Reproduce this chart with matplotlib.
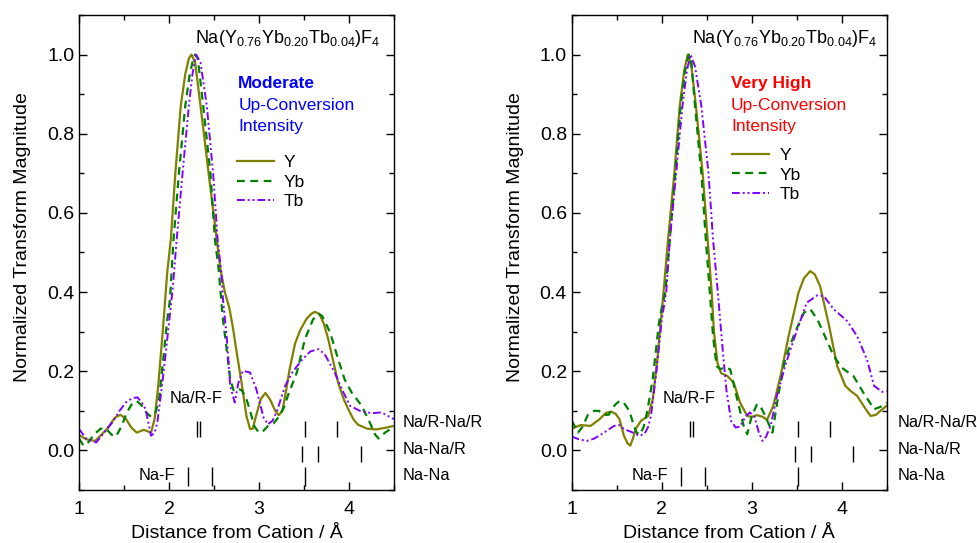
import numpy as np
import matplotlib
matplotlib.use('Agg')
import matplotlib.pyplot as plt
from matplotlib.ticker import MultipleLocator

plt.rcParams['font.family'] = ['Liberation Sans', 'DejaVu Sans']
plt.rcParams['mathtext.fontset'] = 'custom'
plt.rcParams['mathtext.rm'] = 'Liberation Sans'

# ---- data (r in Angstrom, normalized |FT|) ----
# left panel: moderate up-conversion
r_y_mod = [1.00, 1.08, 1.18, 1.31, 1.40, 1.46, 1.52, 1.58, 1.64, 1.72, 1.80, 1.84, 1.88, 1.93,
           1.98, 2.02, 2.07, 2.13, 2.18, 2.22, 2.25, 2.29, 2.35, 2.44, 2.53, 2.57, 2.62, 2.67,
           2.71, 2.75, 2.80, 2.86, 2.90, 2.93, 2.97, 3.02, 3.07, 3.12, 3.18, 3.22, 3.26, 3.30,
           3.34, 3.40, 3.46, 3.53, 3.58, 3.62, 3.67, 3.72, 3.77, 3.83, 3.88, 3.94, 3.99, 4.05,
           4.10, 4.20, 4.30, 4.40, 4.50]
y_mod = [0.039, 0.028, 0.024, 0.054, 0.083, 0.090, 0.080, 0.058, 0.045, 0.052, 0.045, 0.080,
         0.163, 0.300, 0.450, 0.533, 0.700, 0.870, 0.950, 0.990, 1.000, 0.980, 0.870, 0.700,
         0.533, 0.460, 0.400, 0.360, 0.310, 0.250, 0.180, 0.087, 0.054, 0.055, 0.090, 0.130,
         0.145, 0.130, 0.100, 0.089, 0.100, 0.150, 0.205, 0.270, 0.305, 0.333, 0.345, 0.350,
         0.345, 0.320, 0.280, 0.220, 0.170, 0.130, 0.105, 0.078, 0.065, 0.055, 0.053, 0.057,
         0.062]

r_yb_mod = [1.00, 1.05, 1.10, 1.17, 1.24, 1.30, 1.36, 1.41, 1.47, 1.53, 1.58, 1.64, 1.69, 1.75,
            1.80, 1.85, 1.89, 1.94, 1.98, 2.01, 2.05, 2.11, 2.18, 2.23, 2.27, 2.29, 2.32, 2.38,
            2.46, 2.51, 2.55, 2.58, 2.60, 2.64, 2.68, 2.72, 2.77, 2.81, 2.86, 2.90, 2.95, 3.00,
            3.05, 3.10, 3.16, 3.22, 3.28, 3.32, 3.42, 3.51, 3.60, 3.66, 3.70, 3.79, 3.88, 3.95,
            4.03, 4.14, 4.23, 4.29, 4.33, 4.40, 4.46, 4.50]
yb_mod = [0.030, 0.012, 0.020, 0.041, 0.055, 0.055, 0.040, 0.035, 0.060, 0.095, 0.115, 0.125,
          0.115, 0.095, 0.085, 0.095, 0.130, 0.240, 0.330, 0.380, 0.533, 0.700, 0.870, 0.950,
          0.990, 1.000, 0.990, 0.870, 0.700, 0.533, 0.460, 0.380, 0.330, 0.256, 0.180, 0.150,
          0.155, 0.152, 0.130, 0.100, 0.060, 0.045, 0.050, 0.062, 0.068, 0.085, 0.110, 0.138,
          0.197, 0.281, 0.331, 0.345, 0.340, 0.298, 0.230, 0.180, 0.146, 0.113, 0.071, 0.040,
          0.030, 0.045, 0.054, 0.056]

r_tb_mod = [1.00, 1.08, 1.19, 1.28, 1.37, 1.45, 1.52, 1.59, 1.65, 1.70, 1.74, 1.78, 1.80, 1.84,
            1.87, 1.92, 1.96, 2.04, 2.085, 2.15, 2.22, 2.26, 2.30, 2.35, 2.42, 2.49, 2.54, 2.58,
            2.60, 2.64, 2.68, 2.73, 2.77, 2.82, 2.90, 2.97, 3.05, 3.10, 3.15, 3.20, 3.29, 3.37,
            3.48, 3.57, 3.66, 3.73, 3.84, 3.92, 4.01, 4.12, 4.25, 4.36, 4.45, 4.50]
tb_mod = [0.054, 0.030, 0.020, 0.045, 0.071, 0.100, 0.121, 0.132, 0.134, 0.120, 0.104, 0.060,
          0.037, 0.045, 0.071, 0.160, 0.239, 0.407, 0.533, 0.700, 0.870, 0.950, 1.000, 0.980,
          0.870, 0.700, 0.533, 0.450, 0.380, 0.289, 0.163, 0.121, 0.170, 0.201, 0.197, 0.155,
          0.083, 0.066, 0.075, 0.100, 0.163, 0.197, 0.230, 0.250, 0.256, 0.243, 0.197, 0.155,
          0.113, 0.100, 0.094, 0.096, 0.085, 0.079]

# right panel: very high up-conversion
r_y_high = [1.00, 1.10, 1.21, 1.31, 1.38, 1.44, 1.49, 1.53, 1.58, 1.62, 1.65, 1.68, 1.71, 1.77,
            1.85, 1.90, 1.955, 2.02, 2.07, 2.14, 2.20, 2.25, 2.29, 2.33, 2.38, 2.455, 2.51,
            2.555, 2.58, 2.62, 2.66, 2.73, 2.80, 2.87, 2.95, 3.00, 3.06, 3.12, 3.17, 3.24, 3.32,
            3.41, 3.52, 3.58, 3.65, 3.70, 3.76, 3.86, 3.95, 4.04, 4.10, 4.17, 4.25, 4.32, 4.38,
            4.43, 4.50]
y_high = [0.055, 0.064, 0.062, 0.079, 0.095, 0.098, 0.092, 0.079, 0.037, 0.018, 0.012, 0.030,
          0.054, 0.075, 0.087, 0.129, 0.239, 0.400, 0.533, 0.700, 0.870, 0.960, 1.000, 0.970,
          0.870, 0.700, 0.533, 0.400, 0.300, 0.220, 0.195, 0.188, 0.171, 0.121, 0.087, 0.085,
          0.089, 0.085, 0.077, 0.113, 0.188, 0.289, 0.399, 0.435, 0.453, 0.445, 0.415, 0.314,
          0.213, 0.163, 0.150, 0.138, 0.110, 0.087, 0.090, 0.100, 0.113]

r_yb_high = [1.00, 1.07, 1.12, 1.18, 1.25, 1.30, 1.36, 1.41, 1.48, 1.53, 1.58, 1.64, 1.68, 1.72,
             1.76, 1.80, 1.84, 1.90, 1.97, 2.00, 2.04, 2.09, 2.15, 2.21, 2.26, 2.30, 2.33, 2.37,
             2.44, 2.49, 2.54, 2.57, 2.61, 2.65, 2.70, 2.76, 2.83, 2.91, 2.95, 3.00, 3.06, 3.10,
             3.15, 3.23, 3.30, 3.37, 3.48, 3.58, 3.65, 3.73, 3.82, 3.91, 4.00, 4.13, 4.24, 4.36,
             4.43, 4.50]
yb_high = [0.075, 0.045, 0.060, 0.090, 0.100, 0.100, 0.090, 0.090, 0.115, 0.125, 0.120, 0.100,
           0.070, 0.045, 0.040, 0.060, 0.100, 0.180, 0.323, 0.360, 0.400, 0.533, 0.700, 0.870,
           0.960, 1.000, 0.980, 0.870, 0.700, 0.533, 0.382, 0.289, 0.213, 0.205, 0.210, 0.205,
           0.138, 0.062, 0.041, 0.087, 0.117, 0.110, 0.087, 0.045, 0.146, 0.230, 0.298, 0.348,
           0.357, 0.331, 0.285, 0.239, 0.209, 0.188, 0.146, 0.104, 0.110, 0.121]

r_tb_high = [1.00, 1.08, 1.17, 1.25, 1.36, 1.47, 1.53, 1.58, 1.68, 1.75, 1.81, 1.85, 1.88, 1.94,
             2.00, 2.05, 2.09, 2.16, 2.23, 2.28, 2.32, 2.37, 2.44, 2.52, 2.57, 2.63, 2.66, 2.69,
             2.72, 2.74, 2.77, 2.82, 2.87, 2.93, 2.98, 3.03, 3.08, 3.12, 3.16, 3.21, 3.28, 3.37,
             3.48, 3.61, 3.73, 3.80, 3.91, 4.06, 4.17, 4.28, 4.36, 4.45, 4.50]
tb_high = [0.035, 0.028, 0.024, 0.030, 0.045, 0.062, 0.064, 0.054, 0.045, 0.037, 0.042, 0.060,
           0.087, 0.197, 0.330, 0.400, 0.533, 0.700, 0.870, 0.960, 1.000, 0.970, 0.870, 0.700,
           0.533, 0.382, 0.300, 0.222, 0.150, 0.121, 0.075, 0.058, 0.060, 0.085, 0.096, 0.085,
           0.045, 0.024, 0.035, 0.062, 0.138, 0.213, 0.289, 0.373, 0.392, 0.390, 0.357, 0.327,
           0.289, 0.230, 0.163, 0.148, 0.150]

# bond distance markers
na_r_f = [2.31, 2.345]
na_r_na_r = [3.51, 3.87]
na_na_r = [3.48, 3.66, 4.13]
na_na = [3.51]
na_f = [2.21, 2.48]

title = r'Na(Y$_{\mathregular{0.76}}$Yb$_{\mathregular{0.20}}$Tb$_{\mathregular{0.04}}$)F$_{\mathregular{4}}$'

C_Y = '#808000'
C_YB = '#008000'
C_TB = '#8000ff'
FS = 12.5      # annotation / legend text
FS_B = 11.8    # bond labels
FS_T = 14      # tick and axis labels

fig = plt.figure(figsize=(9.77, 5.43), dpi=100)
ax1 = fig.add_axes([0.0809, 0.0976, 0.3224, 0.8748])
ax2 = fig.add_axes([0.5852, 0.0976, 0.3224, 0.8748])


def draw_panel(ax, ry, y, ryb, yb, rtb, tb, word, color, leg_anchor, lab_x, title_x):
    ax.plot(ry, y, '-', color=C_Y, lw=1.6, label='Y')
    ax.plot(ryb, yb, color=C_YB, lw=1.6, ls=(0, (3.5, 2.5)), label='Yb')
    ax.plot(rtb, tb, color=C_TB, lw=1.4, ls=(0, (4, 1.5, 1, 1.5, 1, 1.5)), label='Tb')

    # bond markers
    ax.vlines(na_r_f, 0.033, 0.075, color='k', lw=1)
    ax.vlines(na_r_na_r, 0.033, 0.075, color='k', lw=1)
    ax.vlines(na_na_r, -0.030, 0.012, color='k', lw=1)
    ax.vlines(na_na, -0.089, -0.043, color='k', lw=1)
    ax.vlines(na_f, -0.089, -0.043, color='k', lw=1)
    ax.text(2.30, 0.12, 'Na/R-F', ha='center', fontsize=FS_B)
    ax.text(2.07, -0.074, 'Na-F', ha='right', fontsize=FS_B)
    ax.text(lab_x, 0.058, 'Na/R-Na/R', fontsize=FS_B, clip_on=False)
    ax.text(lab_x, -0.009, 'Na-Na/R', fontsize=FS_B, clip_on=False)
    ax.text(lab_x, -0.074, 'Na-Na', fontsize=FS_B, clip_on=False)

    ax.text(title_x, 0.940, title, transform=ax.transAxes, fontsize=FS + 0.5, va='baseline')
    ax.text(2.77, 0.916, word, color=color, fontsize=FS, fontweight='bold')
    ax.text(2.77, 0.86, 'Up-Conversion', color=color, fontsize=FS)
    ax.text(2.77, 0.806, 'Intensity', color=color, fontsize=FS)

    ax.legend(loc='upper left', bbox_to_anchor=leg_anchor, frameon=False, fontsize=FS,
              handlelength=2.1, handletextpad=0.6, labelspacing=0.27, borderpad=0,
              borderaxespad=0)

    ax.set_xlim(1, 4.5)
    ax.set_ylim(-0.1, 1.1)
    ax.xaxis.set_major_locator(MultipleLocator(1))
    ax.xaxis.set_minor_locator(MultipleLocator(0.5))
    ax.yaxis.set_major_locator(MultipleLocator(0.2))
    ax.yaxis.set_minor_locator(MultipleLocator(0.1))
    ax.tick_params(which='both', direction='in', top=True, right=True, labelsize=FS_T)
    ax.tick_params(which='major', length=6, width=1)
    ax.tick_params(which='minor', length=3.5, width=1)
    ax.tick_params(axis='x', which='major', pad=8)
    ax.set_yticks([0, 0.2, 0.4, 0.6, 0.8, 1.0])
    ax.set_yticklabels(['0.0', '0.2', '0.4', '0.6', '0.8', '1.0'])
    for s in ax.spines.values():
        s.set_linewidth(1.0)
    ax.set_xlabel('Distance from Cation / Å', fontsize=FS_T, labelpad=5)
    ax.set_ylabel('Normalized Transform Magnitude', fontsize=FS_T, labelpad=11.5)
    ax.yaxis.label.set_y(0.533)


draw_panel(ax1, r_y_mod, y_mod, r_yb_mod, yb_mod, r_tb_mod, tb_mod,
           'Moderate', '#0000ff', (0.502, 0.706), 4.597, 0.368)
draw_panel(ax2, r_y_high, y_high, r_yb_high, yb_high, r_tb_high, tb_high,
           'Very High', '#ff0000', (0.51, 0.721), 4.618, 0.381)

fig.savefig('out.png', dpi=100)
